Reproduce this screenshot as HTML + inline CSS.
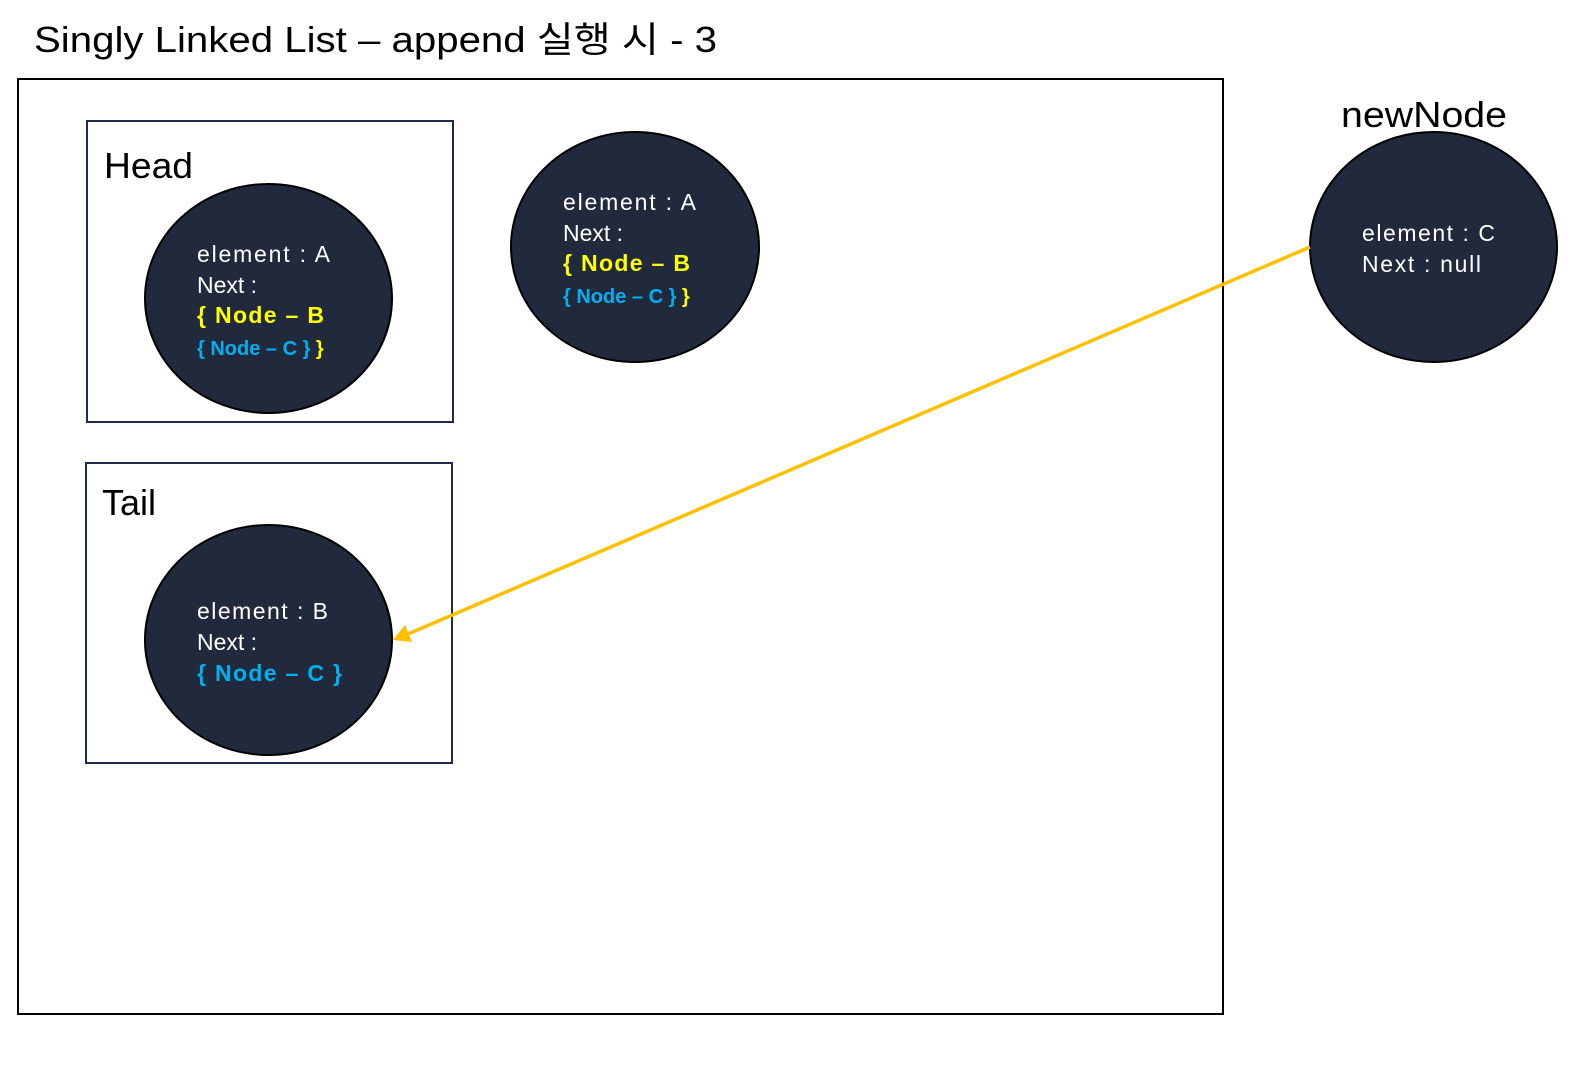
<!DOCTYPE html>
<html><head><meta charset="utf-8"><style>html,body{margin:0;padding:0;background:#fff}svg{display:block}</style></head>
<body>
<svg width="1583" height="1074" xmlns="http://www.w3.org/2000/svg" font-family="'Liberation Sans','Noto Sans CJK KR',sans-serif">
<text x="34" y="52" font-size="36" fill="#000" textLength="683" lengthAdjust="spacingAndGlyphs">Singly Linked List – append 실행 시 - 3</text>
<rect x="18" y="79" width="1205" height="935" fill="none" stroke="#000" stroke-width="2"/>
<rect x="87" y="121" width="366" height="301" fill="none" stroke="#1f2a4d" stroke-width="2"/>
<rect x="86" y="463" width="366" height="300" fill="none" stroke="#1f2a4d" stroke-width="2"/>
<text x="104" y="178" font-size="36" textLength="89" lengthAdjust="spacingAndGlyphs">Head</text>
<text x="102" y="515" font-size="36" textLength="54" lengthAdjust="spacingAndGlyphs">Tail</text>
<text x="1341" y="127" font-size="36" textLength="166" lengthAdjust="spacingAndGlyphs">newNode</text>
<g fill="#212a3c" stroke="#000" stroke-width="2">
<ellipse cx="268.5" cy="298.5" rx="123.5" ry="114.5"/>
<ellipse cx="635" cy="247" rx="124" ry="115"/>
<ellipse cx="1433.5" cy="247" rx="123.5" ry="115"/>
<ellipse cx="268.5" cy="640" rx="123.5" ry="115"/>
</g>
<g font-size="23" fill="#fff">
<text x="197" y="262" textLength="133">element : A</text>
<text x="197" y="293">Next :</text>
<text x="197" y="323" fill="#ffff00" font-weight="bold" textLength="127">{ Node – B</text>
<text x="197" y="355" font-size="20" font-weight="bold"><tspan fill="#00b0f0">{ Node – C }</tspan><tspan fill="#ffff00"> }</tspan></text>
<text x="563" y="210" textLength="133">element : A</text>
<text x="563" y="241">Next :</text>
<text x="563" y="271" fill="#ffff00" font-weight="bold" textLength="127">{ Node – B</text>
<text x="563" y="303" font-size="20" font-weight="bold"><tspan fill="#00b0f0">{ Node – C }</tspan><tspan fill="#ffff00"> }</tspan></text>
<text x="1362" y="241" textLength="133">element : C</text>
<text x="1362" y="272" textLength="119">Next : null</text>
<text x="197" y="619" textLength="131">element : B</text>
<text x="197" y="650">Next :</text>
<text x="197" y="681" fill="#00b0f0" font-weight="bold" textLength="145">{ Node – C }</text>
</g>
<line x1="1310" y1="247" x2="408" y2="634" stroke="#ffc000" stroke-width="3.5"/>
<polygon points="393,640 405,625 412,642" fill="#ffc000"/>
</svg>
</body></html>
